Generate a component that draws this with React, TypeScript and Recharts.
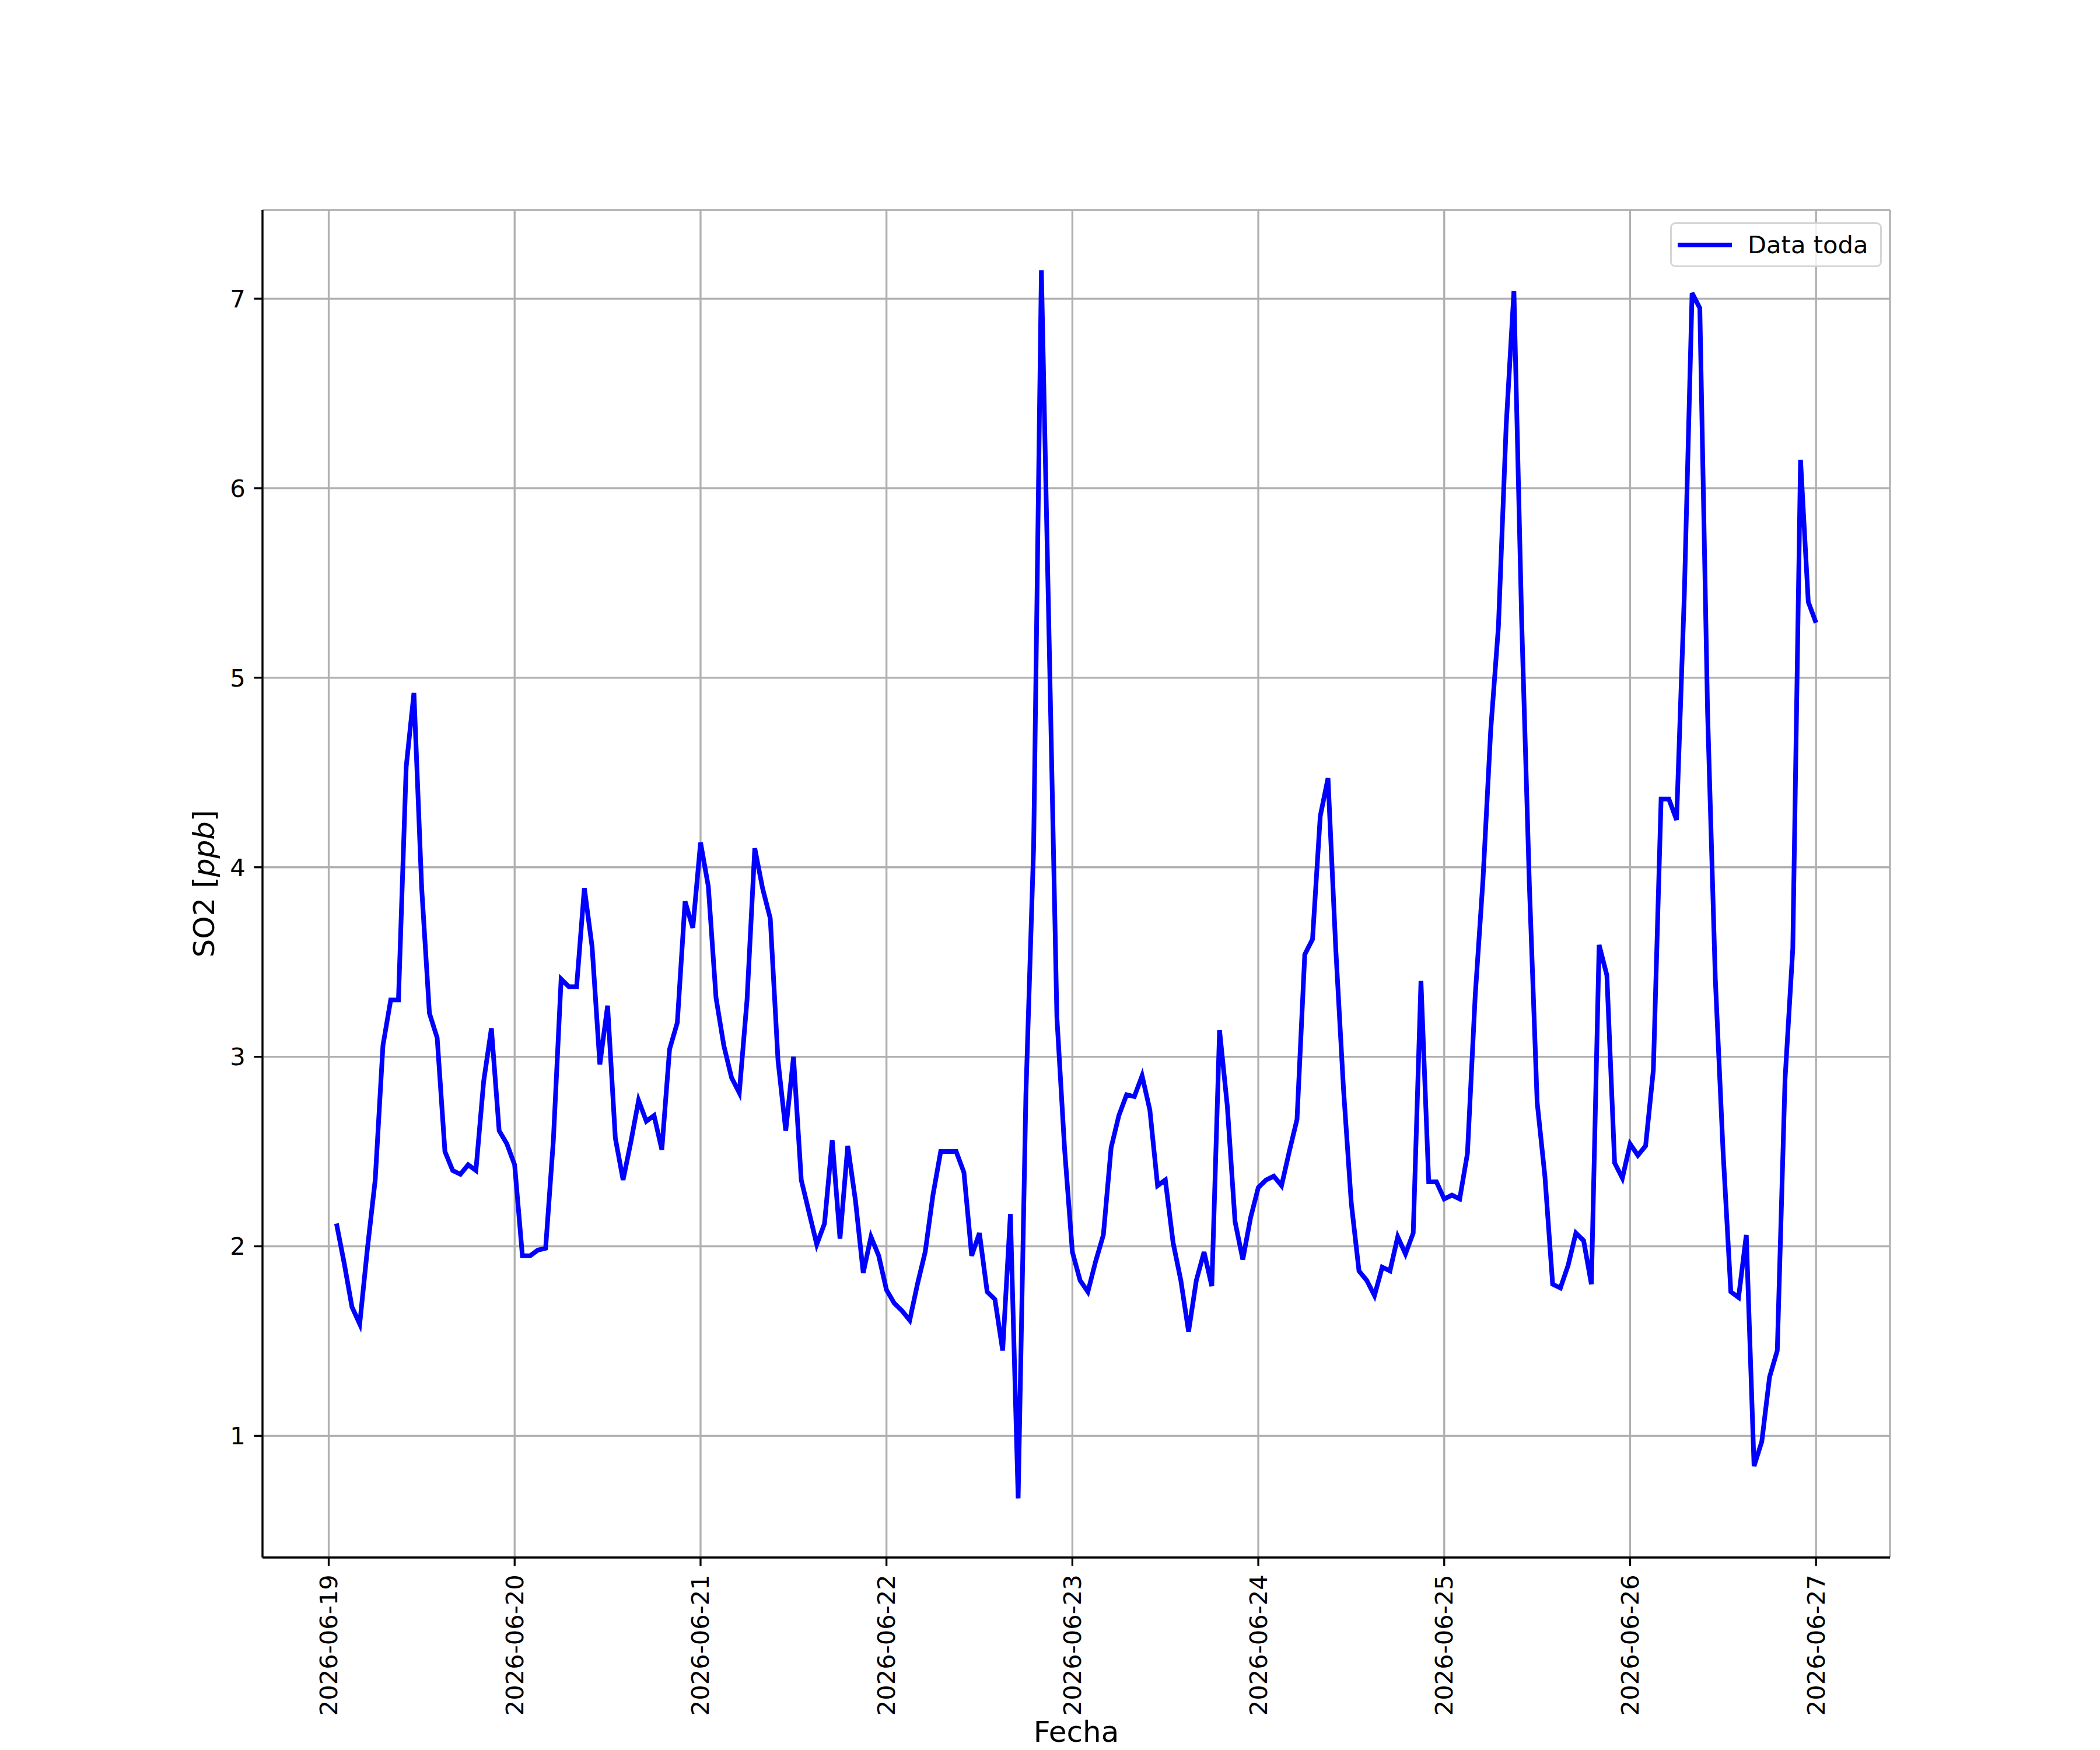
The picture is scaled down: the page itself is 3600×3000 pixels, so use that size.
import React from "react";
import {
  LineChart, Line, XAxis, YAxis, CartesianGrid, Legend,
} from "recharts";

// fechas de los ticks del eje x (uno por día, a las 00:00)
const dayLabels = [
  "2026-06-19", "2026-06-20", "2026-06-21", "2026-06-22", "2026-06-23",
  "2026-06-24", "2026-06-25", "2026-06-26", "2026-06-27",
];

// SO2 horario [ppb], de 01:00 a 24:00 de cada día
const jun19 = [2.12, 1.91, 1.68, 1.59, 1.99, 2.35, 3.06, 3.30, 3.30, 4.53, 4.92, 3.89,
  3.23, 3.10, 2.50, 2.40, 2.38, 2.43, 2.40, 2.87, 3.15, 2.61, 2.54, 2.43];
const jun20 = [1.95, 1.95, 1.98, 1.99, 2.56, 3.41, 3.37, 3.37, 3.89, 3.58, 2.96, 3.27,
  2.57, 2.35, 2.55, 2.77, 2.66, 2.69, 2.51, 3.04, 3.18, 3.82, 3.68, 4.13];
const jun21 = [3.90, 3.31, 3.06, 2.89, 2.81, 3.30, 4.10, 3.89, 3.73, 2.98, 2.61, 3.00,
  2.35, 2.18, 2.01, 2.12, 2.56, 2.04, 2.53, 2.24, 1.86, 2.05, 1.95, 1.77];
const jun22 = [1.70, 1.66, 1.61, 1.80, 1.97, 2.27, 2.50, 2.50, 2.50, 2.39, 1.95, 2.07,
  1.76, 1.72, 1.45, 2.17, 0.67, 2.80, 4.11, 7.15, 5.20, 3.21, 2.51, 1.97];
const jun23 = [1.82, 1.76, 1.92, 2.06, 2.52, 2.69, 2.80, 2.79, 2.90, 2.72, 2.32, 2.35,
  2.02, 1.82, 1.55, 1.82, 1.97, 1.79, 3.14, 2.74, 2.13, 1.93, 2.15, 2.31];
const jun24 = [2.35, 2.37, 2.32, 2.50, 2.67, 3.54, 3.62, 4.27, 4.47, 3.57, 2.83, 2.23,
  1.87, 1.82, 1.74, 1.89, 1.87, 2.05, 1.96, 2.07, 3.40, 2.34, 2.34, 2.25];
const jun25 = [2.27, 2.25, 2.49, 3.32, 3.93, 4.72, 5.27, 6.33, 7.04, 5.30, 3.90, 2.76,
  2.37, 1.80, 1.78, 1.90, 2.07, 2.03, 1.80, 3.59, 3.43, 2.44, 2.36, 2.54];
const jun26 = [2.48, 2.53, 2.93, 4.36, 4.36, 4.25, 5.44, 7.03, 6.95, 4.82, 3.41, 2.50,
  1.76, 1.73, 2.06, 0.84, 0.97, 1.31, 1.45, 2.88, 3.57, 6.15, 5.40, 5.29];

const yTicks = [1, 2, 3, 4, 5, 6, 7];

const days = [jun19, jun20, jun21, jun22, jun23, jun24, jun25, jun26];
const data = days.flat().map((v, i) => ({ hour: i + 1, so2: v }));
const hourTicks = dayLabels.map((_, i) => i * 24);

const FONT = "DejaVu Sans";
const PT = 300 / 72; // 300 dpi
const BOX = { stroke: "#000", strokeWidth: 0.8 * PT };

function DateTick({ x, y, payload }: any) {
  return (
    <text
      x={x} y={y}
      transform={`rotate(-90 ${x} ${y})`}
      textAnchor="end" dominantBaseline="central"
      fontFamily={FONT} fontSize={10 * PT} fill="#000"
    >
      {dayLabels[Math.round(payload.value / 24)]}
    </text>
  );
}

function YLabel({ viewBox }: any) {
  const cx = viewBox.x + 350;
  const cy = viewBox.y + viewBox.height / 2;
  return (
    <text
      x={cx} y={cy}
      transform={`rotate(-90 ${cx} ${cy})`}
      textAnchor="middle" dominantBaseline="central"
      fontFamily={FONT} fontSize={12 * PT} fill="#000"
    >
      SO2 [<tspan fontStyle="italic">ppb</tspan>]
    </text>
  );
}

function XLabel({ viewBox }: any) {
  return (
    <text
      x={viewBox.x + viewBox.width / 2} y={2986}
      textAnchor="middle"
      fontFamily={FONT} fontSize={12 * PT} fill="#000"
    >
      Fecha
    </text>
  );
}

const renderLegend = () => (
  <div style={{
    boxSizing: "border-box", width: "100%", height: "100%",
    border: `${0.8 * PT}px solid rgba(204,204,204,0.8)`, borderRadius: 9,
    background: "rgba(255,255,255,0.8)",
    display: "flex", alignItems: "center",
    fontFamily: FONT, fontSize: 10 * PT, color: "#000",
  }}>
    <div style={{ marginLeft: 10, width: 93, height: 8, background: "#0000ff" }} />
    <span style={{ marginLeft: 27, lineHeight: 1 }}>Data toda</span>
  </div>
);

export default function App() {
  return (
    <div style={{ position: "absolute", left: 0, top: 0, width: 3600, height: 3000, background: "#fff" }}>
      <LineChart
        width={3600} height={3000} data={data}
        margin={{ top: 360, right: 360, bottom: 0, left: 0 }}
      >
        <CartesianGrid stroke="#b0b0b0" strokeWidth={0.8 * PT} />
        <XAxis
          dataKey="hour" type="number"
          domain={[-8.55, 201.55]} allowDataOverflow
          ticks={hourTicks} interval={0}
          height={330}
          axisLine={BOX} tickLine={BOX}
          tickSize={3.5 * PT} tickMargin={3.5 * PT}
          tick={<DateTick />}
          label={<XLabel />}
        />
        <YAxis
          type="number" domain={[0.358, 7.468]} allowDataOverflow
          ticks={yTicks} interval={0}
          width={450}
          axisLine={BOX} tickLine={BOX}
          tickSize={3.5 * PT} tickMargin={3.5 * PT}
          tick={{ fill: "#000", fontSize: 10 * PT, fontFamily: FONT }}
          label={<YLabel />}
        />
        <XAxis
          xAxisId="top" orientation="top" type="number"
          domain={[-8.55, 201.55]} height={0}
          axisLine={BOX} tick={false} tickLine={false}
        />
        <YAxis
          yAxisId="right" orientation="right" type="number"
          domain={[0.358, 7.468]} width={0}
          axisLine={BOX} tick={false} tickLine={false}
        />
        <Legend
          layout="vertical" align="center" verticalAlign="middle"
          wrapperStyle={{ left: 2863, top: 381, width: 363, height: 77 }}
          content={renderLegend}
        />
        <Line
          type="linear" dataKey="so2" name="Data toda"
          stroke="#0000ff" strokeWidth={8} dot={false}
          isAnimationActive={false}
        />
      </LineChart>
    </div>
  );
}
